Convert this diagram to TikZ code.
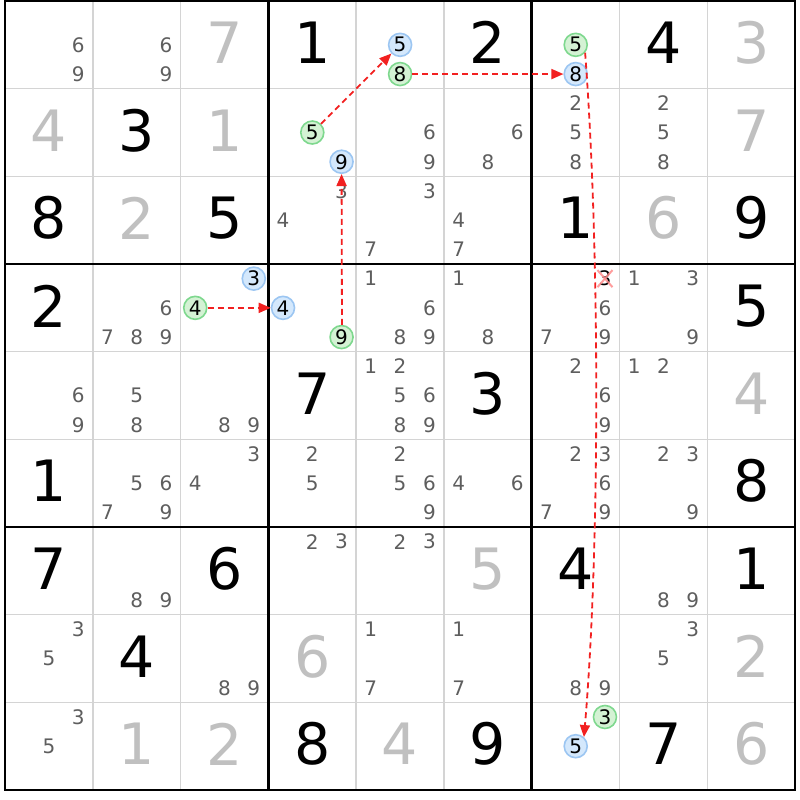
\documentclass[tikz,border=0pt]{standalone}
\usepackage{fontspec}
\setmainfont{DejaVu Sans}
\usetikzlibrary{arrows.meta}
\definecolor{gridc}{HTML}{D4D4D4}
\definecolor{candc}{HTML}{5E5E5E}
\definecolor{solvc}{HTML}{C0C0C0}
\definecolor{gfill}{HTML}{D4F2D4}
\definecolor{gline}{HTML}{7ED88E}
\definecolor{bfill}{HTML}{D4E8FC}
\definecolor{bline}{HTML}{9CC6F2}
\definecolor{linkc}{HTML}{F22020}
\definecolor{xc}{HTML}{FF8C8C}
\newcommand\CW{87.8}
\newcommand\CH{87.67}
\newcommand\pmarks[3]{%
  \foreach \d in {#3}{%
    \pgfmathsetmacro\px{5+\CW*(#2-1)+\CW*(2*mod(\d-1,3)+1)/6}%
    \pgfmathsetmacro\py{1+\CH*(#1-1)+\CH*(2*floor((\d-1)/3)+1)/6}%
    \node[cand] (p#1#2\d) at (\px,\py) {\d};
  }}
\newcommand\hlc[4]{%
    \pgfmathsetmacro\px{5+\CW*(#2-1)+\CW*(2*mod(#3-1,3)+1)/6}%
    \pgfmathsetmacro\py{1+\CH*(#1-1)+\CH*(2*floor((#3-1)/3)+1)/6}%
    \node[#4] (h#1#2#3) at (\px,\py) {#3};}
\newcommand\givn[3]{%
    \pgfmathsetmacro\px{5+\CW*(#2-0.5)}%
    \pgfmathsetmacro\py{1+\CH*(#1-0.5)-2}%
    \node[big] (g#1#2) at (\px,\py) {#3};}
\newcommand\solv[3]{%
    \pgfmathsetmacro\px{5+\CW*(#2-0.5)}%
    \pgfmathsetmacro\py{1+\CH*(#1-0.5)-2}%
    \node[big,text=solvc] (s#1#2) at (\px,\py) {#3};}
\tikzset{
  cand/.style={inner sep=0pt,text=candc,font=\fontsize{20}{20}\selectfont},
  big/.style={inner sep=0pt,text=black,font=\fontsize{57}{57}\selectfont},
  gc/.style={circle,draw=gline,fill=gfill,line width=1.6pt,minimum size=23pt,inner sep=0pt,text=black,font=\fontsize{20}{20}\selectfont},
  bc/.style={circle,draw=bline,fill=bfill,line width=1.6pt,minimum size=23pt,inner sep=0pt,text=black,font=\fontsize{20}{20}\selectfont},
  link/.style={draw=linkc,line width=1.8pt,dash pattern=on 6pt off 4pt,-{Triangle[length=12pt,width=10pt]}},
  xmk/.style={draw=xc,line width=2pt,opacity=0.85},
}
\begin{document}
\begin{tikzpicture}[x=1pt,y=-1pt]
\useasboundingbox (0,0) rectangle (800,800);
\fill[white] (0,0) rectangle (800,800);
% thin lines
\foreach \k in {1,2,4,5,7,8}{
  \draw[draw=gridc,line width=1.6pt] ({5+\CW*\k},1) -- ({5+\CW*\k},790);
  \draw[draw=gridc,line width=1.6pt] (5,{1+\CH*\k}) -- (795,{1+\CH*\k});
}
% thick lines
\foreach \k in {3,6}{
  \draw[black,line width=2.8pt] ({5+\CW*\k},1) -- ({5+\CW*\k},790);
  \draw[black,line width=2.8pt] (5,{1+\CH*\k}) -- (795,{1+\CH*\k});
}
\draw[black,line width=2.8pt] (5,1) rectangle (795,790);
% givens
\givn{1}{4}{1}\givn{1}{6}{2}\givn{1}{8}{4}
\givn{2}{2}{3}
\givn{3}{1}{8}\givn{3}{3}{5}\givn{3}{7}{1}\givn{3}{9}{9}
\givn{4}{1}{2}\givn{4}{9}{5}
\givn{5}{4}{7}\givn{5}{6}{3}
\givn{6}{1}{1}\givn{6}{9}{8}
\givn{7}{1}{7}\givn{7}{3}{6}\givn{7}{7}{4}\givn{7}{9}{1}
\givn{8}{2}{4}
\givn{9}{4}{8}\givn{9}{6}{9}\givn{9}{8}{7}
% solved
\solv{1}{3}{7}\solv{1}{9}{3}
\solv{2}{1}{4}\solv{2}{3}{1}\solv{2}{9}{7}
\solv{3}{2}{2}\solv{3}{8}{6}
\solv{5}{9}{4}
\solv{7}{6}{5}
\solv{8}{4}{6}\solv{8}{9}{2}
\solv{9}{2}{1}\solv{9}{3}{2}\solv{9}{5}{4}\solv{9}{9}{6}
% candidates
\pmarks{1}{1}{6,9}\pmarks{1}{2}{6,9}
\pmarks{2}{5}{6,9}\pmarks{2}{6}{6,8}\pmarks{2}{7}{2,5,8}\pmarks{2}{8}{2,5,8}
\pmarks{3}{4}{3,4}\pmarks{3}{5}{3,7}\pmarks{3}{6}{4,7}
\pmarks{4}{2}{6,7,8,9}\pmarks{4}{5}{1,6,8,9}\pmarks{4}{6}{1,8}\pmarks{4}{7}{6,7,9}\pmarks{4}{8}{1,3,9}
\pmarks{5}{1}{6,9}\pmarks{5}{2}{5,8}\pmarks{5}{3}{8,9}\pmarks{5}{5}{1,2,5,6,8,9}\pmarks{5}{7}{2,6,9}\pmarks{5}{8}{1,2}
\pmarks{6}{2}{5,6,7,9}\pmarks{6}{3}{3,4}\pmarks{6}{4}{2,5}\pmarks{6}{5}{2,5,6,9}\pmarks{6}{6}{4,6}\pmarks{6}{7}{2,3,6,7,9}\pmarks{6}{8}{2,3,9}
\pmarks{7}{2}{8,9}\pmarks{7}{4}{2,3}\pmarks{7}{5}{2,3}\pmarks{7}{8}{8,9}
\pmarks{8}{1}{3,5}\pmarks{8}{3}{8,9}\pmarks{8}{5}{1,7}\pmarks{8}{6}{1,7}\pmarks{8}{7}{8,9}\pmarks{8}{8}{3,5}
\pmarks{9}{1}{3,5}
% eliminated candidate
\pgfmathsetmacro\px{5+\CW*6+\CW*5/6}
\pgfmathsetmacro\py{1+\CH*3+\CH/6}
\node[cand,text=black] (p473) at (\px,\py) {3};
% highlighted candidates
\hlc{1}{5}{5}{bc}\hlc{1}{5}{8}{gc}
\hlc{1}{7}{5}{gc}\hlc{1}{7}{8}{bc}
\hlc{2}{4}{5}{gc}\hlc{2}{4}{9}{bc}
\hlc{4}{3}{3}{bc}\hlc{4}{3}{4}{gc}
\hlc{4}{4}{4}{bc}\hlc{4}{4}{9}{gc}
\hlc{9}{7}{3}{gc}\hlc{9}{7}{5}{bc}
% cross
\draw[xmk] ([shift={(-7.5,-8.5)}]p473.center) -- ([shift={(7.5,8.5)}]p473.center);
\draw[xmk] ([shift={(7.5,-8.5)}]p473.center) -- ([shift={(-7.5,8.5)}]p473.center);
% links
\draw[link] (h245) -- (h155);
\draw[link] (h158) -- (h178);
\draw[link] (h434) -- (h444);
\draw[link] ([xshift=0.4pt]h449.north) -- (h249.south);
\draw[link] (h175.-40) .. controls (600,250) and (600,550) .. (h975.48);
\end{tikzpicture}
\end{document}
